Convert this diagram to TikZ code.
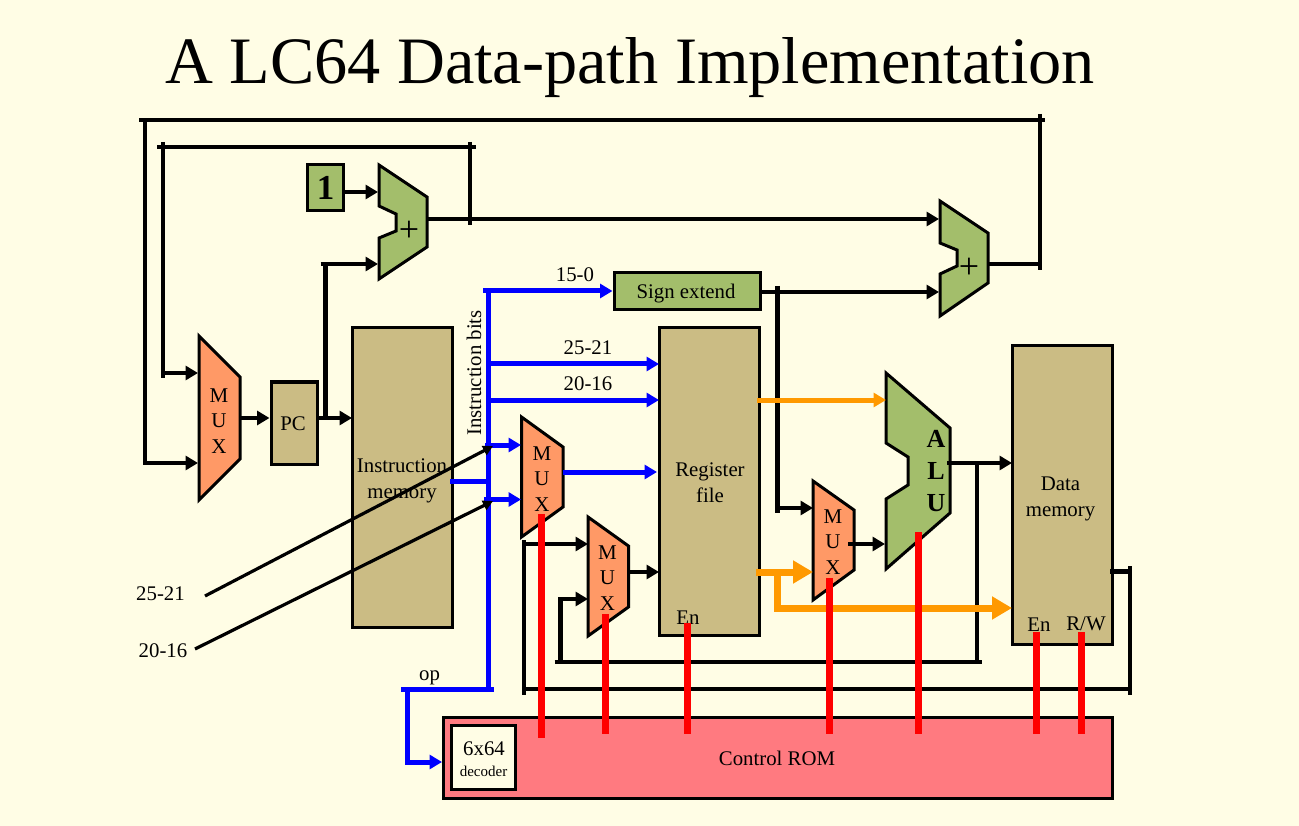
\documentclass[tikz,border=0pt]{standalone}
\usepackage{fontspec}
\setmainfont{Liberation Serif}
\usepackage{xcolor}
\usepackage{tikz}
\usetikzlibrary{arrows.meta}

\definecolor{slidebg}{HTML}{FFFDE5}
\definecolor{muxorange}{HTML}{FF9966}
\definecolor{addgreen}{HTML}{A3BE6B}
\definecolor{blocktan}{HTML}{CBBC84}
\definecolor{rompink}{HTML}{FF7A80}
\definecolor{dataorange}{HTML}{FF9900}

\begin{document}
\begin{tikzpicture}[
  x=1pt, y=-1pt,
  >={Triangle[length=12.5pt,width=14pt]},
  block/.style={draw=black, line width=3pt, fill=blocktan, inner sep=0pt},
  greenblock/.style={block, fill=addgreen},
  muxpoly/.style={draw=black, line width=3pt, fill=muxorange, line join=miter},
  addpoly/.style={draw=black, line width=3pt, fill=addgreen, line join=miter},
  muxtext/.style={inner sep=0pt, align=center, font=\fontsize{21}{25.2}\selectfont},
  lbl/.style={inner sep=0pt, align=center, font=\fontsize{20.8}{26}\selectfont},
  wire/.style={line width=4.2pt},
  bus/.style={line width=5pt, blue},
  ctrl/.style={line width=7pt, red},
  data/.style={line width=5pt, dataorange},
  bigdata/.style={line width=7pt, dataorange, >={Triangle[length=20pt,width=22pt]}},
  field/.style={line width=3.2pt, >={Triangle[length=10pt,width=10pt]}},
]
  % Slide background
  \fill[slidebg] (0,0) rectangle (1299,826);
  \node[lbl, font=\fontsize{66.3}{70}\selectfont] (title) at (630,68) {A LC64 Data-path Implementation};

  % Blocks
  \node[greenblock, minimum width=36.5pt, minimum height=46.5pt, font=\bfseries\fontsize{35}{35}\selectfont] (one) at (325.7,187.7) {1};
  \node[block, minimum width=46pt, minimum height=82pt] (pc) at (294,423) {};
  \node[block, minimum width=100pt, minimum height=299pt] (imem) at (402.5,477.5) {};
  \node[block, minimum width=100pt, minimum height=307.5pt] (regfile) at (709.5,481.25) {};
  \node[block, minimum width=100pt, minimum height=298pt] (dmem) at (1062,495) {};
  \node[greenblock, minimum width=146pt, minimum height=37pt] (signext) at (687,291.5) {};
  \node[block, fill=rompink, minimum width=669pt, minimum height=81pt] (rom) at (777.5,757.5) {};
  \node[block, fill=slidebg, minimum width=64pt, minimum height=64pt] (decoder) at (483.5,757) {};

  % Adders
  \draw[addpoly] (379,165) -- (427,197) -- (427,247) -- (379,279) -- (379,238) -- (396,231) -- (396,214) -- (379,206) -- cycle;
  \node[muxtext, font=\fontsize{36}{36}\selectfont] (addA) at (409,231) {+};
  \draw[addpoly] (940,201) -- (988,233) -- (988,283) -- (940,316) -- (940,274) -- (957,266) -- (957,250) -- (940,243) -- cycle;
  \node[muxtext, font=\fontsize{36}{36}\selectfont] (addB) at (969,268) {+};

  % Muxes
  \draw[muxpoly] (199,336) -- (240,377) -- (240,459) -- (199,500) -- cycle;
  \node[muxtext] (muxpc) at (219,421) {M\\U\\X};
  \draw[muxpoly] (521.5,417) -- (563,447) -- (563,507) -- (521.5,537) -- cycle;
  \node[muxtext] (muxrs) at (542,479) {M\\U\\X};
  \draw[muxpoly] (588,517) -- (628.5,546) -- (628.5,607) -- (588,636) -- cycle;
  \node[muxtext] (muxwb) at (607.5,578) {M\\U\\X};
  \draw[muxpoly] (813,481) -- (854,510) -- (854,570) -- (813,600) -- cycle;
  \node[muxtext] (muxalu) at (833,542) {M\\U\\X};

  % ALU
  \draw[addpoly] (886,373) -- (950,428) -- (950,513) -- (886,569) -- (886,499) -- (908,485) -- (908,457) -- (886,443) -- cycle;
  \node[muxtext, font=\bfseries\fontsize{26}{32}\selectfont] (alu) at (936,471) {A\\L\\U};

  % Wire ends
  \coordinate (muxpcA) at (198,373);
  \coordinate (muxpcB) at (198,463);
  \coordinate (muxpcO) at (240,418);
  \coordinate (pcO) at (317,418);
  \coordinate (imemI) at (352,418);
  \coordinate (addAone) at (378,192);
  \coordinate (addAfb) at (378,264);
  \coordinate (addAO) at (428,219);
  \coordinate (addBa) at (939,219);
  \coordinate (addBb) at (939,292);
  \coordinate (addBO) at (988,264);
  \coordinate (fbT) at (1040,120);
  \coordinate (fbL) at (145,120);
  \coordinate (incT) at (470,147);
  \coordinate (incL) at (163,147);
  \coordinate (incO) at (470,219);
  \coordinate (pcV) at (325.5,264);
  \coordinate (busT) at (488,291);
  \coordinate (busB) at (488,689);
  \coordinate (opV) at (407,689);
  \coordinate (romI) at (442,762);
  \coordinate (muxrsA) at (521,445);
  \coordinate (muxrsB) at (521,499.5);
  \coordinate (muxrsO) at (563,472);
  \coordinate (regA) at (659,364);
  \coordinate (regB) at (659,400);
  \coordinate (regC) at (657,472);
  \coordinate (regD) at (659,572);
  \coordinate (regE) at (757,400);
  \coordinate (regF) at (756,572);
  \coordinate (imemO) at (450,481.5);
  \coordinate (muxwbA) at (588,544);
  \coordinate (muxwbB) at (588,599);
  \coordinate (muxwbO) at (629,572);
  \coordinate (feedA) at (524,689);
  \coordinate (feedB) at (560.5,662);
  \coordinate (feedC) at (977,662);
  \coordinate (feedD) at (1130,689);
  \coordinate (aluO) at (947,463);
  \coordinate (aluJ) at (977,463);
  \coordinate (dmemI) at (1012,463);
  \coordinate (dmemO) at (1110,571.5);
  \coordinate (signJ) at (777.5,292);
  \coordinate (muxaluA) at (813,508);
  \coordinate (muxaluB) at (813,572);
  \coordinate (muxaluO) at (848,544);
  \coordinate (aluA) at (885,544);
  \coordinate (aluB) at (886,400);
  \coordinate (orgJ) at (777,572);
  \coordinate (dmemD) at (1012,608);
  \coordinate (wordA) at (205,596);
  \coordinate (wordB) at (195,649);
  \coordinate (busA) at (493,446);
  \coordinate (busC) at (493,501);

  % Feedback wires
  \draw[wire] ([xshift=-6pt]fbL) -- ([xshift=5pt]fbT);
  \draw[wire] ([yshift=6pt]fbT) -- ([yshift=-6pt]fbT |- addBO);
  \draw[wire] (addBO) -- (addBO -| fbT);
  \draw[wire,->] (fbL) |- (muxpcB);
  \draw[wire] ([xshift=-6pt]incL) -- ([xshift=6pt]incT);
  \draw[wire] ([yshift=5pt]incL) -- ([yshift=-5pt]incL |- muxpcA);
  \draw[wire,->] (incL |- muxpcA) -- (muxpcA);
  \draw[wire] ([yshift=5pt]incT) -- ([yshift=-6pt]incO);
  \draw[wire,->] (addAO) -- (addBa);
  \draw[wire,->] (one.east |- addAone) -- (addAone);

  % PC path
  \draw[wire,->] (muxpcO) -- (pc.west |- muxpcO);
  \draw[wire,->] (pcO) -- (imemI);
  \draw[wire] (pcO -| pcV) -- (pcV);
  \draw[wire] ([xshift=-5pt]pcV) -- (pcV);
  \draw[wire,->] (pcV) -- (addAfb);

  % Sign extend outputs
  \draw[wire,->] (signext.east |- addBb) -- (addBb);
  \draw[wire] ([yshift=6pt]signJ) -- ([yshift=-5pt]signJ |- muxaluA);
  \draw[wire,->] (signJ |- muxaluA) -- (muxaluA);

  % Instruction bits
  \draw[bus] ([xshift=-5pt]busT) -- (busT);
  \draw[bus] (busT) -- (busB);
  \draw[bus,->] (busT) -- (signext.west |- busT);
  \draw[bus,->] (busT |- regA) -- (regA);
  \draw[bus,->] (busT |- regB) -- (regB);
  \draw[bus,->] ([xshift=-3pt]busT |- muxrsA) -- (muxrsA);
  \draw[bus,->] ([xshift=-4pt]busT |- muxrsB) -- (muxrsB);
  \draw[bus] (imemO) -- (busT |- imemO);
  \draw[bus,->] (muxrsO) -- (regC);
  \draw[bus] ([xshift=-6pt]opV) -- ([xshift=6pt]busB);
  \draw[bus,->] (opV) |- (romI);

  % Write back path
  \draw[wire,->] (muxwbO) -- (regD);
  \draw[wire] ([yshift=4pt]feedA |- muxwbA) -- ([yshift=-6pt]feedA);
  \draw[wire,->] (feedA |- muxwbA) -- (muxwbA);
  \draw[wire,->] (feedB) |- (muxwbB);
  \draw[wire] ([xshift=-6pt]feedB) -- ([xshift=5pt]feedC);
  \draw[wire] (aluJ) -- (feedC);
  \draw[wire,->] (aluO) -- (dmemI);
  \draw[wire] (feedA) -- (feedD);
  \draw[wire] ([yshift=5.5pt]feedD |- dmemO) -- ([yshift=-6pt]feedD);
  \draw[wire] (dmemO) -- (feedD |- dmemO);
  \draw[wire,->] (muxaluO) -- (aluA);

  % Register outputs
  \draw[data,->] (regE) -- (aluB);
  \draw[bigdata,->] (regF) -- (muxaluB);
  \draw[bigdata,->] (orgJ) |- (dmemD);

  % Block texts
  \node[lbl] (lblpc) at (293,424) {PC};
  \node[lbl] (lblimem) at (402,481) {Instruction\\memory};
  \node[lbl] (lblreg) at (710,483) {Register\\file};
  \node[lbl] (lbldmem) at (1060.5,499) {Data\\memory};
  \node[lbl] (lblsign) at (686,294) {Sign extend};
  \node[lbl] (lblrom) at (777,758) {Control ROM};
  \node[lbl] (lbldec) at (484,749) {6x64};
  \node[lbl, font=\fontsize{15}{15}\selectfont] (lbldecsub) at (483.5,771) {decoder};

  % Register field selects
  \draw[field,->] (wordA) -- (busA);
  \draw[field,->] (wordB) -- (busC);

  % Labels
  \node[lbl] (lblfifteen) at (575,275) {15-0};
  \node[lbl] (lblrs) at (588,348) {25-21};
  \node[lbl] (lblrt) at (588,384) {20-16};
  \node[lbl, rotate=90] (lblbits) at (474,373) {Instruction bits};
  \node[lbl] (lblop) at (429.5,678) {op};
  \node[lbl] (lblwordA) at (160.5,594) {25-21};
  \node[lbl] (lblwordB) at (163,651) {20-16};
  \node[lbl] (lblregen) at (688,618) {En};
  \node[lbl] (lblmemen) at (1039,625) {En};
  \node[lbl] (lblrw) at (1086,624) {R/W};

  % Control lines from the ROM
  \foreach \cx/\ctop/\cbot in {541.5/514/738, 605.5/614/734, 687/623/734, 829/578/734, 918.7/532/734, 1036/632/734, 1081.7/632/734} {
    \draw[ctrl] (\cx,\ctop) -- (\cx,\cbot);
  }
\end{tikzpicture}
\end{document}
